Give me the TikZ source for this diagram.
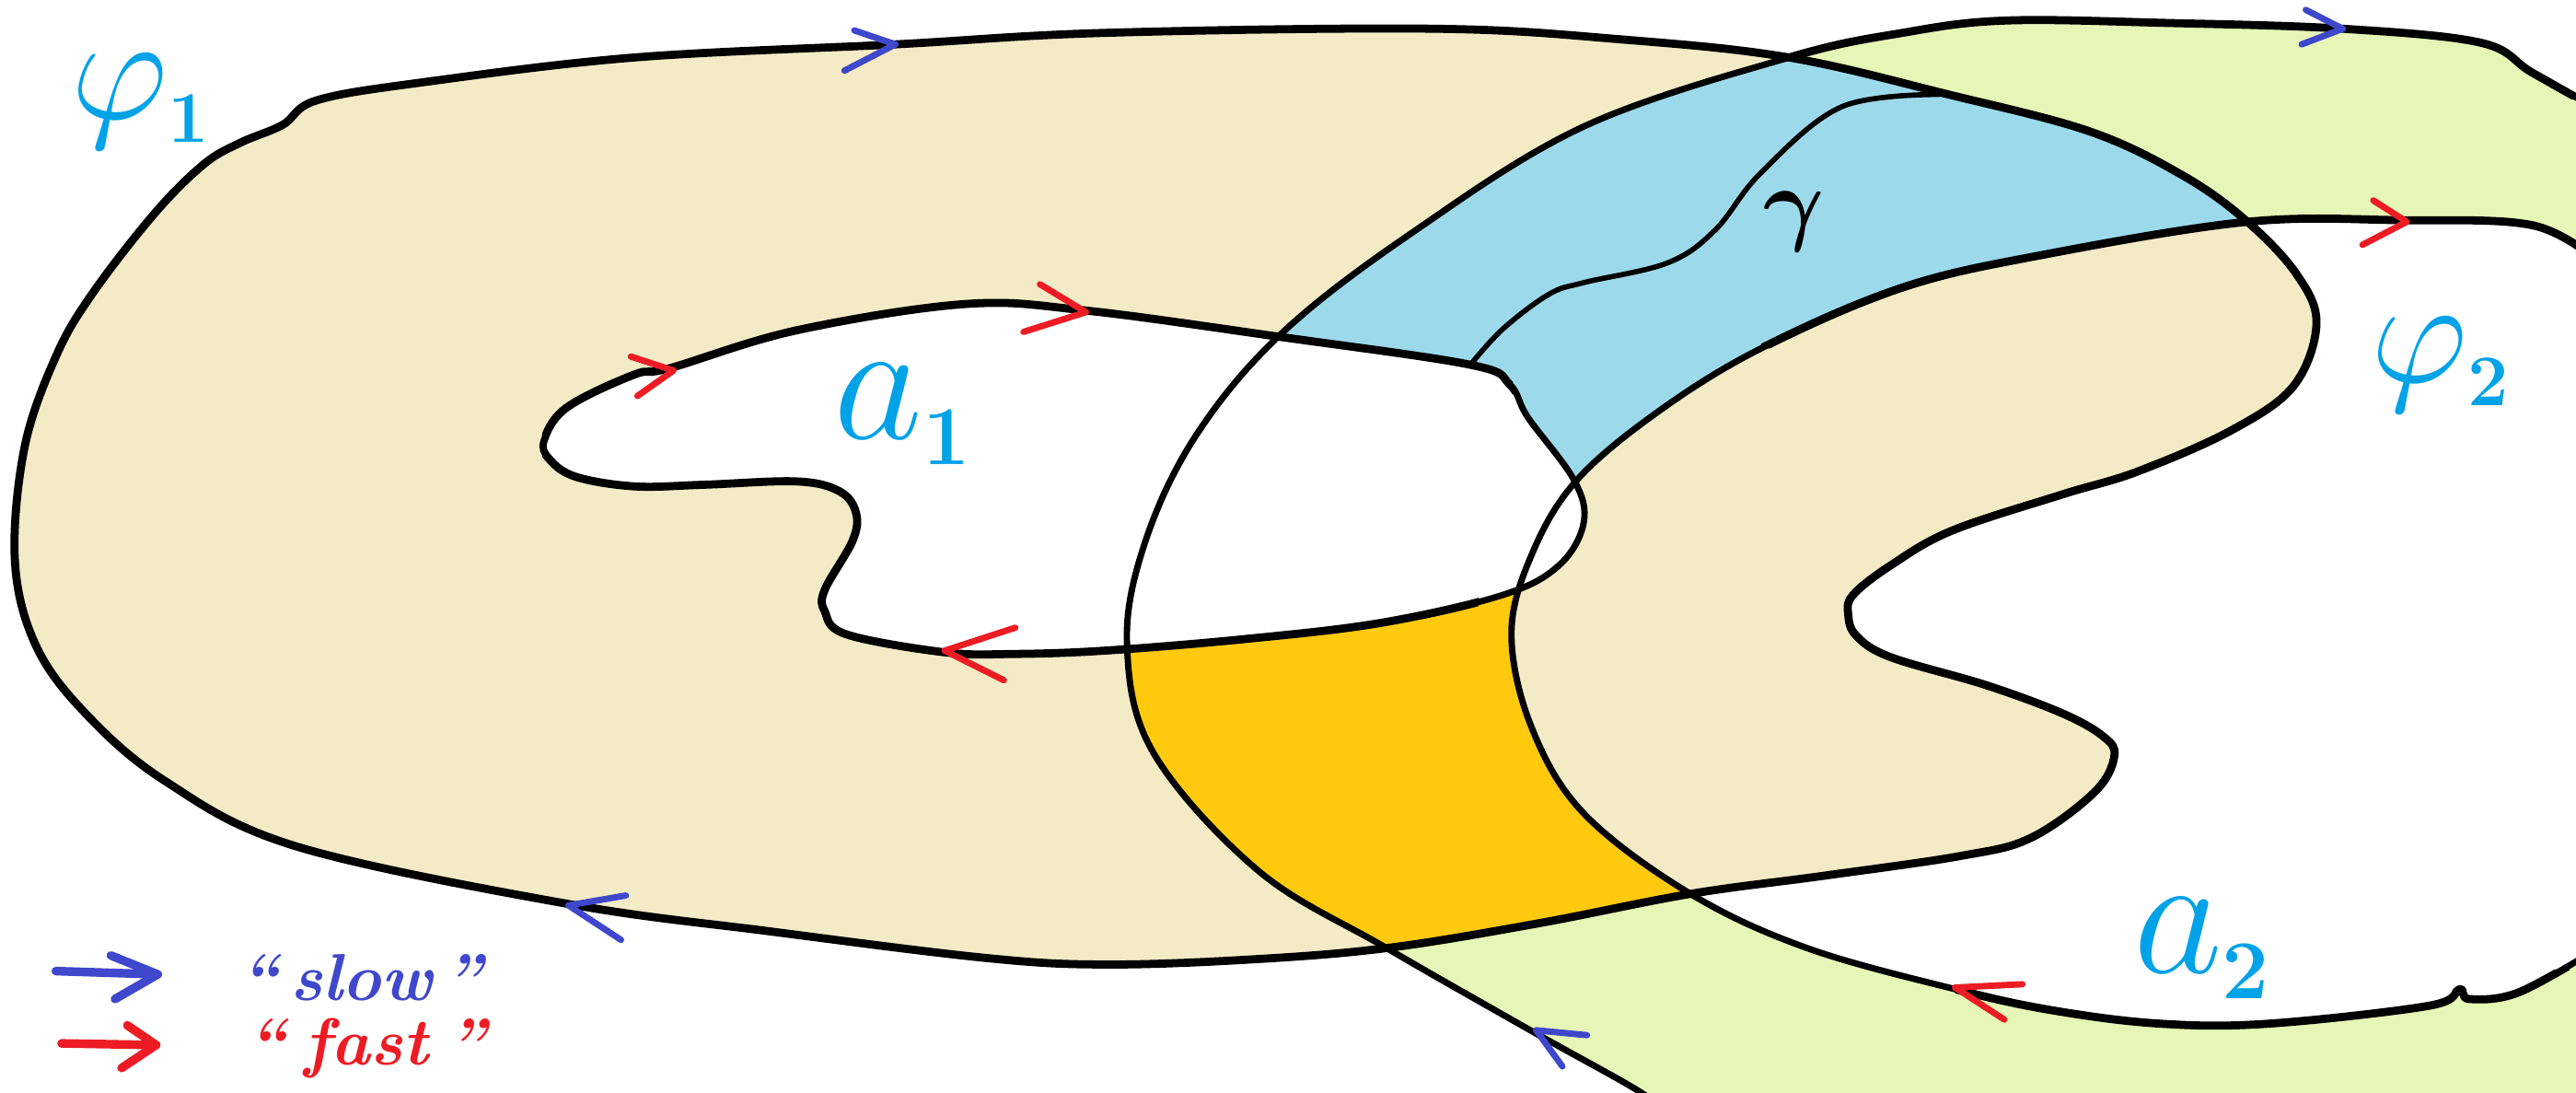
\documentclass[tikz,border=0pt]{standalone}
\usepackage{tikz}
\definecolor{RegionBeige}{HTML}{F3EBC6}
\definecolor{RegionGreen}{HTML}{E5F6B6}
\definecolor{RegionBlue}{HTML}{9CD9EB}
\definecolor{RegionOrange}{HTML}{FFC90E}
\definecolor{LabelCyan}{HTML}{00A2E8}
\definecolor{SlowBlue}{HTML}{3F48CC}
\definecolor{FastRed}{HTML}{ED1C24}

\newcommand{\outerone}{plot[smooth cycle, tension=0.6] coordinates {(545,27) (673,20) (873,17.5) (987,24) (1089,35) (1186,57.5) (1272,80) (1329,107) (1368,135) (1398,167) (1410,197) (1396,235) (1358,262) (1301,287) (1255,301) (1188,323) (1151,344) (1128,362) (1125,374) (1130,387) (1151,400) (1209,417) (1255,434) (1280,448) (1287,460) (1275,482) (1236,510) (1193,521) (1110,533) (1029,544) (936,562) (844,577) (760,584) (672,587) (600,583) (470,567) (345,550) (180,515) (100,475) (50,432) (21,391) (9,340) (15,272) (34,217) (56,179) (94,130) (124,100) (146,87) (172,76) (193,61) (258,50) (386,35)}}
\newcommand{\innerone}{plot[smooth cycle, tension=0.6] coordinates {(331,268) (345,248) (386,228) (408,224) (485,201) (588,185) (661,189) (779,205) (895,222) (919,234) (930,254) (958,292) (964,318) (949,344) (915,362) (841,379) (757,389) (672,396) (617,398) (575,397) (515,386) (502,372) (502,359) (519,329) (521,312) (511,299) (485,293) (429,295) (386,296) (350,290) (334,279)}}
\newcommand{\outertwo}{plot[smooth, tension=0.6] coordinates {(1580,66) (1541,44) (1510,26) (1426,17.5) (1320,14) (1221,12.5) (1158,20) (1089,35) (964,77) (859,142) (780,203) (728,265) (697,330) (686,392) (702,458) (766,530) (844,577) (935,629) (999,665) (1015,680)}}
\newcommand{\innertwo}[1]{#1 plot[smooth, tension=0.6] coordinates {(1580,578) (1533,604) (1503,608) (1497,602) (1479,612) (1381,623) (1315,623) (1250,615) (1190,602) (1100,577) (1029,544) (964,495) (932,442) (920,385) (933,336) (960,292) (1010,250) (1072,212) (1158,175) (1244,155) (1368,135) (1461,134) (1541,137) (1580,158)}}

\tikzset{
    thickline/.style={draw=black, line width=2.8pt, line join=round},
    thinline/.style={draw=black, line width=2.2pt, line join=round},
    slowtip/.style={draw=SlowBlue, line width=2.2pt, line cap=round, line join=round},
    fasttip/.style={draw=FastRed, line width=2.2pt, line cap=round, line join=round},
    curvelabel/.style={text=LabelCyan, inner sep=0pt, font=\Huge, scale=2.1},
    legendlabel/.style={inner sep=0pt, font=\fontsize{23}{23}\selectfont\bfseries\itshape}
}
\newcommand{\subdigit}[1]{\mbox{\fontsize{12}{12}\selectfont\bfseries #1}}

\begin{document}
\begin{tikzpicture}[x=0.02cm, y=-0.02cm]
    \clip (0,0) rectangle (1568,665);

    % Regions
    \fill[RegionGreen] \outertwo -- (1600,700) \innertwo{--} -- cycle;
    \fill[RegionBeige] \outerone;
    \begin{scope}
        \clip \outertwo -- (1600,700) \innertwo{--} -- cycle;
        \clip \outerone;
        \fill[RegionBlue] (600,0) rectangle (1500,300);
        \fill[RegionOrange] (600,300) rectangle (1500,665);
    \end{scope}
    \fill[white] \innerone;

    % Curves
    \draw[thinline] \outertwo;
    \draw[thinline] \innertwo{};
    \draw[thinline] \innerone;
    \draw[thickline] \outerone;
    \begin{scope}
        \clip (1089,0) rectangle (1568,60);
        \draw[thickline] \outertwo;
    \end{scope}
    \begin{scope}
        \clip (1072,100) rectangle (1568,212) (1190,590) rectangle (1568,665);
        \draw[thickline] \innertwo{};
    \end{scope}
    \begin{scope}
        \clip (330,170) rectangle (921,240) (330,240) rectangle (900,420);
        \draw[thickline] \innerone;
    \end{scope}
    \draw[thinline, line width=1.8pt] plot[smooth, tension=0.6] coordinates {(895,222) (915,200) (943,179) (964,172) (1015,160) (1044,140) (1072,105) (1121,65) (1181,57.5)};

    % Arrows
    \draw[slowtip] (520,18.5) -- (545,27) -- (514,43);
    \draw[slowtip] (1403.5,6) -- (1426,17.5) -- (1401,27);
    \draw[slowtip] (381,545) -- (346,551) -- (378,572);
    \draw[slowtip] (966,630) -- (935,627) -- (951,649);
    \draw[fasttip] (384,217) -- (410,225.5) -- (388,241);
    \draw[fasttip] (633,173) -- (661,190) -- (623,202);
    \draw[fasttip] (618,382) -- (575,396) -- (611,414);
    \draw[fasttip] (1444.6,122) -- (1465,135) -- (1438,149);
    \draw[fasttip] (1231,599) -- (1190,601) -- (1220,620.5);

    % Labels
    \node[curvelabel] (phione) at (86,62) {$\varphi_{\subdigit{1}}$};
    \node[curvelabel] (phitwo) at (1486,222) {$\varphi_{\subdigit{2}}$};
    \node[curvelabel, scale=1.15] (aone) at (550,252) {$a_{\subdigit{1}}$};
    \node[curvelabel, scale=1.15] (atwo) at (1341,577) {$a_{\subdigit{2}}$};
    \node[inner sep=0pt, font=\Huge\boldmath, scale=1.3] (gammaright) at (1092,135) {$\gamma$};

    % Legend
    \draw[slowtip, line width=3pt] (34,591) -- (96,593);
    \draw[slowtip, line width=3pt] (67.5,581.5) -- (96,593) -- (70,608);
    \node[legendlabel, text=SlowBlue] (slowlabel) at (220,595) {``\,slow\,''};
    \draw[fasttip, line width=3pt] (37.5,635) -- (95,636);
    \draw[fasttip, line width=3pt] (77.5,624) -- (95,636) -- (74,650);
    \node[legendlabel, text=FastRed] (fastlabel) at (223,638) {``\;fast\;''};
\end{tikzpicture}
\end{document}
